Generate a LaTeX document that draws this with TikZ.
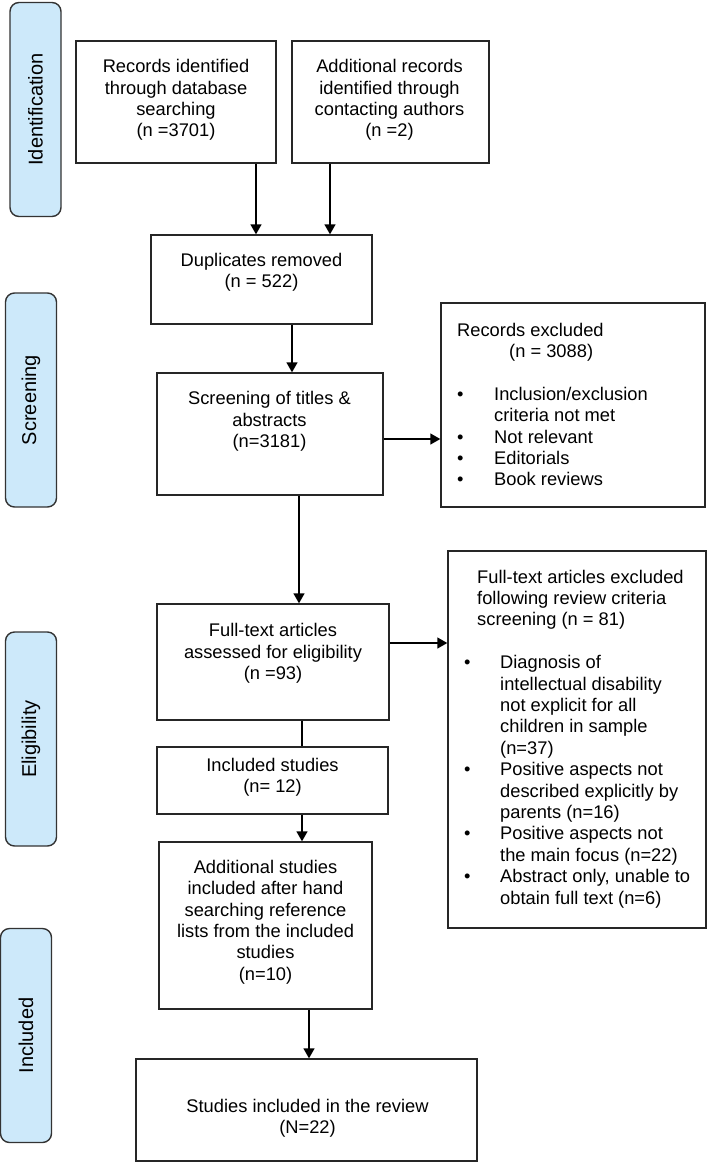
\documentclass[tikz,border=0pt]{standalone}
\usepackage{fontspec}
\setmainfont{Liberation Sans}
\usetikzlibrary{arrows.meta}
\definecolor{stagebg}{RGB}{205,233,250}

\begin{document}
\begin{tikzpicture}[x=1pt,y=-1pt,
  box/.style={draw=black!85,line width=1.4pt,inner sep=0pt},
  txt/.style={align=center,inner sep=0pt,font=\fontsize{18.3}{21.4}\selectfont},
  stage/.style={draw=black!80,line width=1.4pt,fill=stagebg,rounded corners=9pt,rotate=90,inner sep=0pt,minimum width=214pt,minimum height=51pt,font=\fontsize{20}{24}\selectfont},
  arr/.style={line width=1.4pt,-{Triangle[length=10pt,width=11pt]}},
  link/.style={line width=1.4pt}]
\useasboundingbox (0,0) rectangle (709,1163);

\node[stage] (ident) at (35.5,109.5) {Identification};
\node[stage] (screen) at (31,400) {Screening};
\node[stage] (elig) at (31,739) {Eligibility};
\node[stage] (incl) at (26,1035.5) {Included};

\node[box,minimum width=200pt,minimum height=122pt] (rec1) at (176,102) {};
\node[box,minimum width=197pt,minimum height=122pt] (rec2) at (390.5,102) {};
\node[box,minimum width=221pt,minimum height=89pt] (dup) at (261.5,279.5) {};
\node[box,minimum width=226pt,minimum height=122pt] (scr) at (270,434) {};
\node[box,minimum width=264pt,minimum height=204pt] (excl1) at (573,405) {};
\node[box,minimum width=232pt,minimum height=116pt] (ft) at (273,662) {};
\node[box,minimum width=258pt,minimum height=377pt] (excl2) at (577,739.5) {};
\node[box,minimum width=231pt,minimum height=67pt] (inc) at (272.5,780.5) {};
\node[box,minimum width=213pt,minimum height=167pt] (add) at (265.5,925.5) {};
\node[box,minimum width=341pt,minimum height=102pt] (final) at (306.5,1110) {};

\node[txt] (rec1t) at (176,100) {Records identified\\through database\\searching\\(n =3701)};
\node[txt] (rec2t) at (389.5,100) {Additional records\\identified through\\contacting authors\\(n =2)};
\node[txt] (dupt) at (261.5,272) {Duplicates removed\\(n = 522)};
\node[txt] (scrt) at (269.5,421.5) {Screening of titles \&\\abstracts\\(n=3181)};
\node[txt] (ftt) at (273,653.5) {Full-text articles\\assessed for eligibility\\(n =93)};
\node[txt] (inct) at (272.5,777.5) {Included studies\\(n= 12)};
\node[txt] (addt) at (265.5,922) {Additional studies\\included after hand\\searching reference\\lists from the included\\studies\\(n=10)};
\node[txt] (finalt) at (307.5,1118.5) {Studies included in the review\\(N=22)};

\node[txt,anchor=base west,align=left] (excl1t) at (457,336) {\begin{tabular}[t]{@{}p{37pt}@{}l@{}}
\multicolumn{2}{@{}l@{}}{Records excluded}\\
\multicolumn{2}{@{}l@{}}{\hspace{52pt}(n = 3088)}\\[21.4pt]
\textbullet & Inclusion/exclusion\\
 & criteria not met\\
\textbullet & Not relevant\\
\textbullet & Editorials\\
\textbullet & Book reviews
\end{tabular}};

\node[txt,anchor=base west,align=left] (excl2t) at (464,583) {\begin{tabular}[t]{@{}p{36pt}@{}l@{}}
\multicolumn{2}{@{}l@{}}{\hspace{13pt}Full-text articles excluded}\\
\multicolumn{2}{@{}l@{}}{\hspace{13pt}following review criteria}\\
\multicolumn{2}{@{}l@{}}{\hspace{13pt}screening (n = 81)}\\[21.4pt]
\textbullet & Diagnosis of\\
 & intellectual disability\\
 & not explicit for all\\
 & children in sample\\
 & (n=37)\\
\textbullet & Positive aspects not\\
 & described explicitly by\\
 & parents (n=16)\\
\textbullet & Positive aspects not\\
 & the main focus (n=22)\\
\textbullet & Abstract only, unable to\\
 & obtain full text (n=6)
\end{tabular}};

\coordinate (c1) at (256,0);
\coordinate (c2) at (330,0);
\coordinate (c3) at (292,0);
\coordinate (c4) at (299,0);
\coordinate (c5) at (302,0);
\coordinate (c6) at (309,0);
\coordinate (c7) at (0,439);
\coordinate (c8) at (0,643);

\draw[arr] (rec1.south -| c1) -- (dup.north -| c1);
\draw[arr] (rec2.south -| c2) -- (dup.north -| c2);
\draw[arr] (dup.south -| c3) -- (scr.north -| c3);
\draw[arr] (scr.east |- c7) -- (excl1.west |- c7);
\draw[arr] (scr.south -| c4) -- (ft.north -| c4);
\draw[arr] (ft.east |- c8) -- (excl2.west |- c8);
\draw[link] (ft.south -| c5) -- (inc.north -| c5);
\draw[arr] (inc.south -| c5) -- (add.north -| c5);
\draw[arr] (add.south -| c6) -- (final.north -| c6);
\end{tikzpicture}
\end{document}
